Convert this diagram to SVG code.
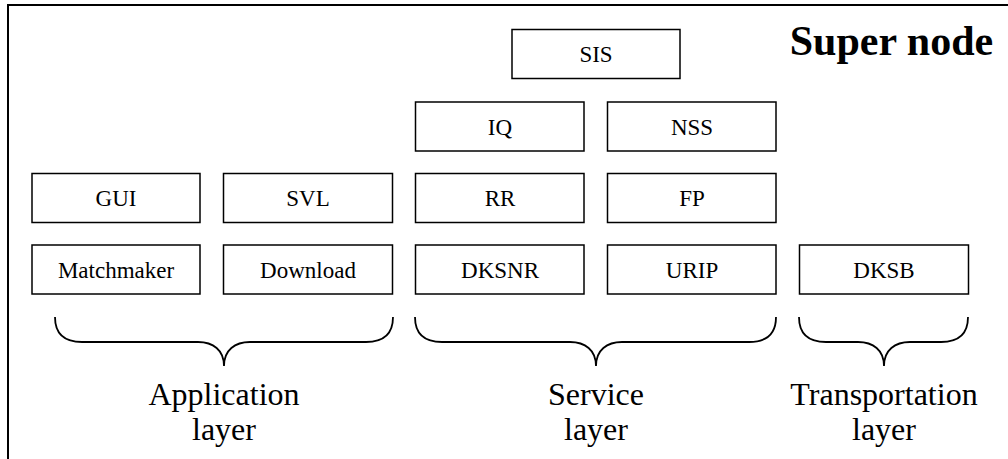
<svg xmlns="http://www.w3.org/2000/svg" width="1008" height="459" viewBox="0 0 1008 459">
<style>
.box{fill:#fff;stroke:#000;stroke-width:1.5}
text{font-family:'Liberation Serif',Tinos,'Times New Roman',Times,'Nimbus Roman','DejaVu Serif',serif;fill:#000;text-anchor:middle}
.lbl{font-size:23px}
.big{font-size:32px}
.title{font-size:42px;font-weight:bold}
.brace{fill:none;stroke:#000;stroke-width:1.8}
</style>
<rect width="1008" height="459" fill="#fff"/>
<path d="M8,459 V5 H1008" fill="none" stroke="#000" stroke-width="2"/>
<text class="title" x="891.5" y="55">Super node</text>
<g id="SIS"><rect class="box" x="512" y="29.5" width="168" height="49"/><text class="lbl" x="596" y="62">SIS</text></g>
<g id="IQ"><rect class="box" x="415.5" y="102" width="168.5" height="49"/><text class="lbl" x="500" y="134.5">IQ</text></g>
<g id="NSS"><rect class="box" x="607.5" y="102" width="168.5" height="49"/><text class="lbl" x="692" y="134.5">NSS</text></g>
<g id="GUI"><rect class="box" x="32" y="173.5" width="168" height="49"/><text class="lbl" x="116" y="206">GUI</text></g>
<g id="SVL"><rect class="box" x="223.5" y="173.5" width="169" height="49"/><text class="lbl" x="308" y="206">SVL</text></g>
<g id="RR"><rect class="box" x="415.5" y="173.5" width="168.5" height="49"/><text class="lbl" x="500" y="206">RR</text></g>
<g id="FP"><rect class="box" x="607.5" y="173.5" width="168.5" height="49"/><text class="lbl" x="692" y="206">FP</text></g>
<g id="Matchmaker"><rect class="box" x="32" y="245" width="168" height="49"/><text class="lbl" x="116" y="277.5">Matchmaker</text></g>
<g id="Download"><rect class="box" x="223.5" y="245" width="169" height="49"/><text class="lbl" x="308" y="277.5">Download</text></g>
<g id="DKSNR"><rect class="box" x="415.5" y="245" width="168.5" height="49"/><text class="lbl" x="500" y="277.5">DKSNR</text></g>
<g id="URIP"><rect class="box" x="607.5" y="245" width="168.5" height="49"/><text class="lbl" x="692" y="277.5">URIP</text></g>
<g id="DKSB"><rect class="box" x="799.5" y="245" width="169" height="49"/><text class="lbl" x="884" y="277.5">DKSB</text></g>
<g id="connectors">
<path class="brace" d="M55,317 C55,333 63,342 82,342 L198,342 C213,342 224,350 224,366 C224,350 235,342 250,342 L366,342 C385,342 393,333 393,317"/>
<path class="brace" d="M415,317 C415,333 423,342 442,342 L570,342 C585,342 596,350 596,366 C596,350 607,342 622,342 L749,342 C768,342 776,333 776,317"/>
<path class="brace" d="M799,317 C799,333 807,342 826,342 L858,342 C873,342 884,350 884,366 C884,350 895,342 910,342 L941,342 C960,342 968,333 968,317"/>
</g>
<g id="Application"><text class="big" x="224" y="405">Application</text><text class="big" x="224" y="440">layer</text></g>
<g id="Service"><text class="big" x="596" y="405">Service</text><text class="big" x="596" y="440">layer</text></g>
<g id="Transportation"><text class="big" x="884" y="405">Transportation</text><text class="big" x="884" y="440">layer</text></g>
</svg>
